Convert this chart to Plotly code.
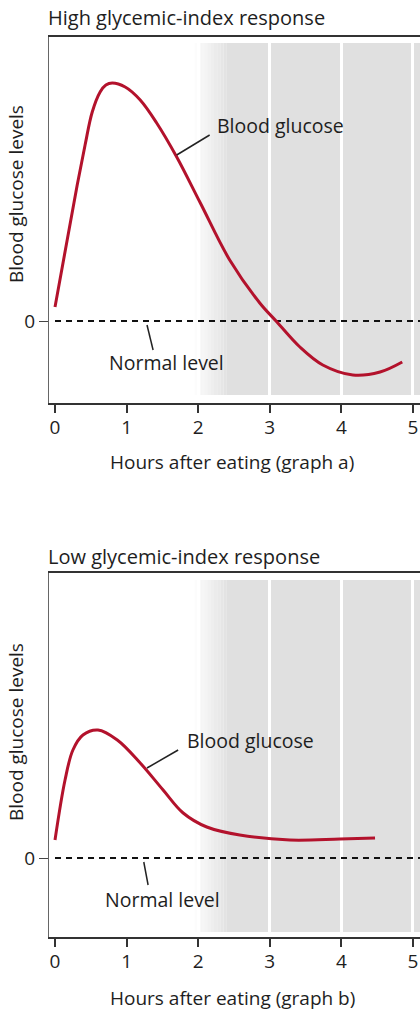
import plotly.graph_objects as go

# Glucose response curves (hours after eating, level relative to normal)
hours_a = [0.0, 0.17, 0.31, 0.42, 0.52, 0.63, 0.71, 0.80, 0.98, 1.19, 1.42, 1.70,
           2.03, 2.44, 2.86, 3.10, 3.42, 3.74, 4.16, 4.54, 4.85]
glucose_a = [1.4, 8.1, 13.6, 17.6, 20.9, 22.9, 23.6, 23.8, 23.4, 22.1, 19.8, 16.4,
             11.8, 6.1, 1.8, -0.1, -2.6, -4.4, -5.4, -5.1, -4.1]

hours_b = [0.0, 0.14, 0.25, 0.39, 0.60, 0.87, 1.19, 1.51, 1.79, 2.12, 2.58,
           3.28, 3.98, 4.47]
glucose_b = [1.8, 7.8, 10.8, 12.3, 12.8, 11.8, 9.5, 6.8, 4.5, 3.1, 2.3,
             1.8, 1.9, 2.0]

normal_level = 0
hour_ticks = [0, 1, 2, 3, 4, 5]

W, H = 420, 1011
FONT = "Open Sans"
TXT = "#1e1e1e"
CURVE = "#b3122c"

fig = go.Figure()

panels = [
    dict(x="x", y="y", hours=hours_a, glucose=glucose_a),
    dict(x="x2", y="y2", hours=hours_b, glucose=glucose_b),
]
for p in panels:
    fig.add_trace(go.Scatter(
        x=[0, 5.3], y=[normal_level, normal_level], xaxis=p["x"], yaxis=p["y"],
        mode="lines", line=dict(color="#111", width=2, dash="6px,5px"),
        hoverinfo="skip", showlegend=False))
    fig.add_trace(go.Scatter(
        x=p["hours"], y=p["glucose"], xaxis=p["x"], yaxis=p["y"],
        mode="lines", line=dict(color=CURVE, width=3, shape="spline", smoothing=1.0),
        showlegend=False))

def px_y(pix):
    return 1 - pix / H

x_common = dict(
    domain=[49 / W, 1], range=[-0.084, 5.098], tickvals=hour_ticks,
    ticks="outside", ticklen=8, tickwidth=1.5, tickcolor="#333",
    showline=True, linecolor="#333", linewidth=1.5, mirror=True,
    showgrid=True, gridcolor="white", gridwidth=3, zeroline=False,
    ticklabelstandoff=-2,
    tickfont=dict(family=FONT, size=19, color=TXT),
)
y_common = dict(
    tickvals=[normal_level], ticktext=["0"], ticks="outside", ticklen=9,
    tickwidth=1.2, tickcolor="#444", showline=True, linecolor="#666",
    linewidth=1.2, showgrid=False, zeroline=False,
    tickfont=dict(family=FONT, size=19, color=TXT),
)

fig.update_layout(
    width=W, height=H, margin=dict(l=0, r=0, t=0, b=0),
    paper_bgcolor="white", plot_bgcolor="white",
    xaxis=dict(**x_common, anchor="y"),
    yaxis=dict(**y_common, domain=[px_y(403), px_y(37)], range=[-8.2, 28.4], anchor="x"),
    xaxis2=dict(**x_common, anchor="y2"),
    yaxis2=dict(**y_common, domain=[px_y(937), px_y(573)], range=[-7.9, 28.5], anchor="x2"),
)

# Light gray page shading behind the right part of each panel, fading in
GRAY = "#e0e0e0"
shapes = []
for xr, yr in (("x", "y"), ("x2", "y2")):
    n = 10
    x_start, x_full = 1.95, 2.40
    step = (x_full - x_start) / n
    for i in range(n):
        shapes.append(dict(type="rect", xref=xr, yref=yr,
                           x0=x_start + i * step, x1=x_start + (i + 1) * step,
                           y0=-7.4, y1=27.8, fillcolor=GRAY, opacity=(i + 1) / (n + 1),
                           line_width=0, layer="below"))
    shapes.append(dict(type="rect", xref=xr, yref=yr, x0=x_full, x1=5.2, y0=-7.4, y1=27.8,
                       fillcolor=GRAY, line_width=0, layer="below"))

# Leader lines for labels
leaders = [
    ("x", "y", 1.70, 16.6, 2.16, 18.6),
    ("x", "y", 1.285, -0.4, 1.37, -2.9),
    ("x2", "y2", 1.285, 9.0, 1.72, 10.8),
    ("x2", "y2", 1.24, -0.4, 1.30, -2.7),
]
for xr, yr, x0, y0, x1, y1 in leaders:
    shapes.append(dict(type="line", xref=xr, yref=yr, x0=x0, y0=y0, x1=x1, y1=y1,
                       line=dict(color="#222", width=1.5), layer="above"))
fig.update_layout(shapes=shapes)

def label(text, xr, yr, x, y):
    return dict(text=text, xref=xr, yref=yr, x=x, y=y, xanchor="left", yanchor="middle",
                showarrow=False, font=dict(family=FONT, size=19.5, color=TXT))

def paper_text(text, x, y, xanchor="left", angle=0, size=19):
    return dict(text=text, xref="paper", yref="paper", x=x, y=y, xanchor=xanchor,
                yanchor="middle", showarrow=False, textangle=angle,
                font=dict(family=FONT, size=size, color=TXT))

annotations = [
    label("Blood glucose", "x", "y", 2.23, 19.6),
    label("Normal level", "x", "y", 0.73, -4.1),
    label("Blood glucose", "x2", "y2", 1.82, 11.8),
    label("Normal level", "x2", "y2", 0.67, -4.1),
    paper_text("High glycemic-index response", 46 / W, px_y(18), size=20),
    paper_text("Low glycemic-index response", 46 / W, px_y(556), size=20),
    paper_text("Hours after eating (graph a)", 232 / W, px_y(462), xanchor="center"),
    paper_text("Hours after eating (graph b)", 232 / W, px_y(998), xanchor="center"),
    paper_text("Blood glucose levels", 16 / W, px_y(194), xanchor="center", angle=-90),
    paper_text("Blood glucose levels", 16 / W, px_y(732), xanchor="center", angle=-90),
]
fig.update_layout(annotations=annotations)

fig.write_html("out.html")
